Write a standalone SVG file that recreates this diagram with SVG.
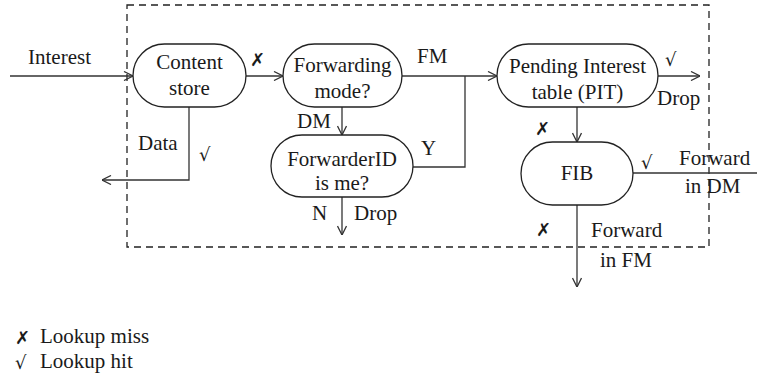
<svg xmlns="http://www.w3.org/2000/svg" width="757" height="379" viewBox="0 0 757 379">
<style>
text{font-family:"Liberation Serif","Times New Roman",serif;font-size:21px;fill:#1a1a1a}
.c{text-anchor:middle}
.sym{font-family:"DejaVu Sans",sans-serif;font-size:18px}
.node{fill:#fff;stroke:#222;stroke-width:1.3}
.ln{fill:none;stroke:#333;stroke-width:1.3}
</style>
<defs>
<marker id="ah" viewBox="0 0 10 10" refX="10" refY="5" markerWidth="10" markerHeight="10" markerUnits="userSpaceOnUse" orient="auto">
<path d="M1,0.5 L10,5 L1,9.5" fill="none" stroke="#333" stroke-width="1.3"/>
</marker>
</defs>
<rect x="127" y="5" width="582" height="242" fill="none" stroke="#222" stroke-width="1.3" stroke-dasharray="7,5"/>
<g id="connectors">
<path class="ln" d="M10,76 H133" marker-end="url(#ah)"/>
<path class="ln" d="M189,107 V180 H102" marker-end="url(#ah)"/>
<path class="ln" d="M246,76 H283" marker-end="url(#ah)"/>
<path class="ln" d="M402,76 H497" marker-end="url(#ah)"/>
<path class="ln" d="M413,167 H465 V76"/>
<path class="ln" d="M342,107 V135" marker-end="url(#ah)"/>
<path class="ln" d="M342,197 V235" marker-end="url(#ah)"/>
<path class="ln" d="M658,76 H700" marker-end="url(#ah)"/>
<path class="ln" d="M577,107 V142" marker-end="url(#ah)"/>
<path class="ln" d="M633,173 H757"/>
<path class="ln" d="M577,205 V287" marker-end="url(#ah)"/>
</g>
<g id="content-store">
<rect class="node" x="133" y="44" width="113" height="63" rx="31.5"/>
<text class="c" x="189.5" y="69">Content</text>
<text class="c" x="189.5" y="95">store</text>
</g>
<g id="forwarding-mode">
<rect class="node" x="283" y="44" width="119" height="63" rx="31.5"/>
<text class="c" x="342.5" y="72">Forwarding</text>
<text class="c" x="342.5" y="98">mode?</text>
</g>
<g id="forwarder-id">
<rect class="node" x="271" y="135" width="142" height="62" rx="31"/>
<text class="c" x="342" y="166">ForwarderID</text>
<text class="c" x="342" y="190">is me?</text>
</g>
<g id="pit">
<rect class="node" x="497" y="44" width="161" height="63" rx="31.5"/>
<text class="c" x="577.5" y="73">Pending Interest</text>
<text class="c" x="577.5" y="99">table (PIT)</text>
</g>
<g id="fib">
<rect class="node" x="521" y="142" width="112" height="63" rx="31.5"/>
<text class="c" x="577" y="180">FIB</text>
</g>
<g id="labels">
<text x="28" y="64">Interest</text>
<text x="138" y="150">Data</text>
<text class="sym" x="199" y="161">√</text>
<text class="sym" x="250" y="66">✗</text>
<text x="417" y="63">FM</text>
<text x="297" y="128">DM</text>
<text x="421" y="155">Y</text>
<text x="312" y="220">N</text>
<text x="354" y="220">Drop</text>
<text class="sym" x="665" y="66">√</text>
<text x="657" y="105">Drop</text>
<text class="sym" x="535" y="135">✗</text>
<text class="sym" x="641" y="169">√</text>
<text x="679" y="165">Forward</text>
<text x="685" y="193">in DM</text>
<text class="sym" x="536" y="236">✗</text>
<text x="591" y="237">Forward</text>
<text x="600" y="267">in FM</text>
<text class="sym" x="15" y="344">✗</text>
<text x="40" y="343">Lookup miss</text>
<text class="sym" x="15" y="369">√</text>
<text x="40" y="368">Lookup hit</text>
</g>
</svg>
